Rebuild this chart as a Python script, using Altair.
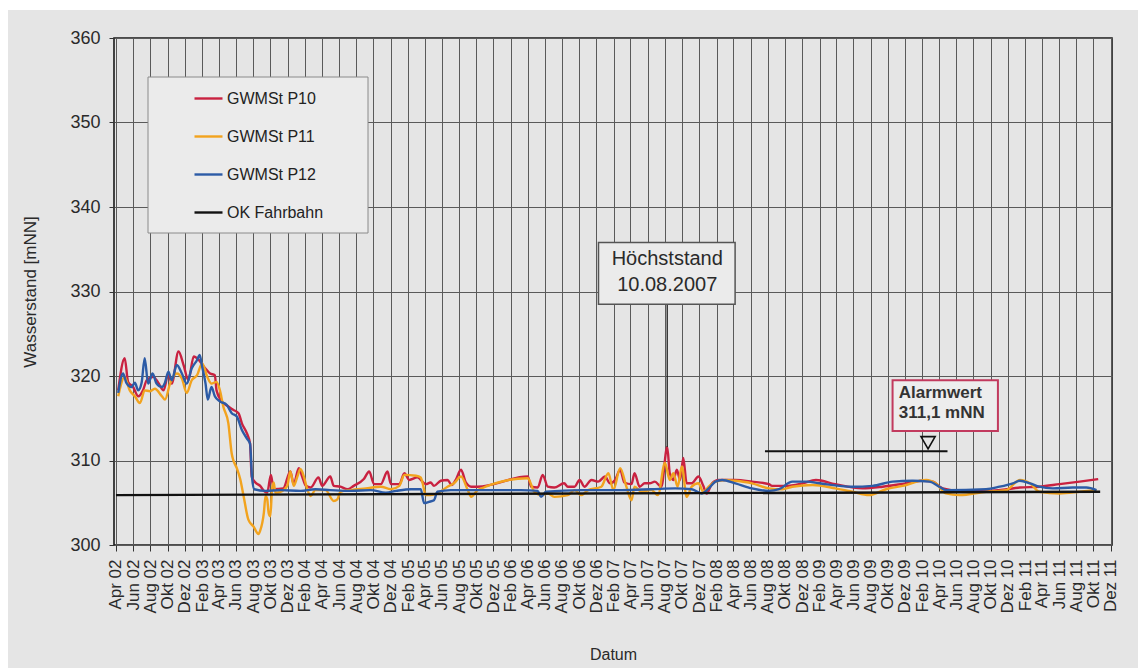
import altair as alt
import pandas as pd

# ---------------------------------------------------------------- data
series_names = ["GWMSt P10", "GWMSt P11", "GWMSt P12", "OK Fahrbahn"]
series_colors = ["#c92140", "#f2a31e", "#2c5ba6", "#111111"]

p10_dates = [
    "2002-04-09", "2002-05-02", "2002-05-14", "2002-06-01", "2002-06-19", "2002-07-06",
    "2002-07-19", "2002-08-12", "2002-08-29", "2002-09-17", "2002-10-04", "2002-10-16",
    "2002-11-09", "2002-11-27", "2002-12-14", "2003-01-02", "2003-01-20", "2003-02-07",
    "2003-03-01", "2003-03-18", "2003-03-24", "2003-04-11", "2003-05-05", "2003-05-22",
    "2003-06-10", "2003-06-22", "2003-07-10", "2003-07-21", "2003-07-27", "2003-08-09",
    "2003-08-26", "2003-09-08", "2003-09-20", "2003-10-03", "2003-10-13", "2003-11-16",
    "2003-12-11", "2003-12-23", "2004-01-10", "2004-01-22", "2004-02-04", "2004-02-21",
    "2004-03-20", "2004-04-02", "2004-05-01", "2004-05-13", "2004-06-06", "2004-07-01",
    "2004-07-23", "2004-08-28", "2004-09-16", "2004-10-03", "2004-10-27", "2004-11-20",
    "2004-12-02", "2005-01-01", "2005-01-19", "2005-02-05", "2005-03-06", "2005-04-05",
    "2005-04-22", "2005-05-04", "2005-05-28", "2005-06-21", "2005-07-06", "2005-07-20",
    "2005-08-08", "2005-08-25", "2005-09-13", "2005-10-06", "2006-04-02", "2006-04-14",
    "2006-05-07", "2006-05-25", "2006-06-12", "2006-07-05", "2006-08-09", "2006-08-22",
    "2006-09-15", "2006-10-03", "2006-10-20", "2006-11-14", "2006-12-08", "2007-01-01",
    "2007-01-19", "2007-02-06", "2007-02-24", "2007-03-11", "2007-04-05", "2007-04-16",
    "2007-05-04", "2007-05-22", "2007-06-09", "2007-06-27", "2007-07-20", "2007-08-10",
    "2007-08-19", "2007-09-01", "2007-09-13", "2007-09-25", "2007-10-06", "2007-10-18",
    "2007-11-05", "2007-11-29", "2007-12-16", "2007-12-28", "2008-01-16", "2008-02-09",
    "2008-04-08", "2008-06-06", "2008-08-05", "2008-08-16", "2008-10-03", "2008-12-02",
    "2009-01-19", "2009-03-28", "2009-07-03", "2009-09-13", "2009-12-04", "2010-02-03",
    "2010-03-09", "2010-04-14", "2010-06-12", "2010-09-04", "2010-11-26", "2011-01-13",
    "2011-03-23", "2011-06-03", "2011-08-13", "2011-10-18",
]
p10_values = [
    318.3, 322.1, 319.3, 318.7, 317.6, 318.3,
    319.5, 319.9, 319.2, 318.3, 320.3, 319.1,
    322.9, 321.3, 319.5, 322.3, 321.9, 321.1,
    320.3, 320.1, 318.3, 317.0, 316.4, 316.0,
    315.6, 314.4, 313.2, 312.0, 308.1, 307.4,
    307.0, 306.4, 306.2, 308.3, 306.6, 306.7,
    308.7, 307.2, 309.1, 308.1, 307.0, 306.8,
    308.0, 307.0, 308.1, 307.0, 306.9, 306.6,
    307.0, 307.8, 308.7, 307.2, 307.2, 308.7,
    307.2, 307.2, 308.5, 307.7, 308.0, 307.2,
    307.4, 307.0, 307.6, 307.7, 307.1, 307.7,
    308.9, 307.4, 306.9, 306.9, 308.1, 306.9,
    306.8, 308.3, 306.9, 306.8, 307.3, 306.9,
    306.9, 307.7, 306.9, 307.7, 307.5, 308.1,
    307.3, 307.7, 308.9, 307.4, 307.2, 308.5,
    306.9, 307.3, 307.3, 307.5, 306.9, 311.6,
    308.5, 307.7, 308.9, 307.7, 310.3, 307.3,
    307.3, 308.1, 307.0, 306.1, 307.3, 307.7,
    307.7, 307.5, 307.2, 307.0, 307.0, 307.3,
    307.7, 307.2, 306.7, 306.9, 307.3, 307.6,
    307.5, 306.7, 306.4, 306.4, 306.6, 306.8,
    306.9, 307.2, 307.5, 307.8,
]

p11_dates = [
    "2002-04-09", "2002-05-02", "2002-05-20", "2002-06-07", "2002-06-25", "2002-07-12",
    "2002-07-30", "2002-08-17", "2002-09-11", "2002-09-22", "2002-10-10", "2002-11-03",
    "2002-11-21", "2002-12-08", "2002-12-26", "2003-01-14", "2003-02-01", "2003-02-19",
    "2003-03-06", "2003-03-24", "2003-04-05", "2003-04-17", "2003-05-05", "2003-05-17",
    "2003-05-22", "2003-06-04", "2003-06-16", "2003-06-28", "2003-07-15", "2003-08-02",
    "2003-08-20", "2003-08-26", "2003-09-08", "2003-09-14", "2003-09-20", "2003-09-25",
    "2003-10-01", "2003-10-07", "2003-10-13", "2003-10-19", "2003-11-06", "2003-11-30",
    "2003-12-11", "2003-12-23", "2004-01-05", "2004-01-16", "2004-01-28", "2004-02-09",
    "2004-02-21", "2004-03-09", "2004-04-14", "2004-05-13", "2004-05-26", "2004-06-06",
    "2004-07-12", "2004-09-04", "2004-10-27", "2004-12-02", "2005-01-01", "2005-01-19",
    "2005-03-01", "2005-03-18", "2005-03-24", "2005-04-05", "2005-04-22", "2005-05-16",
    "2005-06-21", "2005-07-14", "2005-08-08", "2005-09-01", "2005-09-13", "2005-10-06",
    "2006-04-02", "2006-04-25", "2006-05-19", "2006-06-12", "2006-07-05", "2006-08-22",
    "2006-09-15", "2006-10-09", "2006-11-02", "2006-12-19", "2007-01-13", "2007-01-31",
    "2007-02-24", "2007-03-18", "2007-04-05", "2007-04-16", "2007-05-10", "2007-06-15",
    "2007-07-08", "2007-08-02", "2007-08-19", "2007-09-01", "2007-09-16", "2007-10-01",
    "2007-10-18", "2007-11-05", "2007-11-29", "2007-12-16", "2008-01-04", "2008-01-28",
    "2008-03-03", "2008-04-08", "2008-06-06", "2008-08-05", "2008-09-22", "2008-10-27",
    "2009-01-07", "2009-03-29", "2009-05-28", "2009-07-26", "2009-09-25", "2009-11-23",
    "2010-02-14", "2010-03-20", "2010-04-25", "2010-06-12", "2010-09-15", "2010-11-26",
    "2011-01-13", "2011-02-18", "2011-03-23", "2011-06-03", "2011-08-13", "2011-10-12",
]
p11_values = [
    317.6, 319.9, 318.3, 317.6, 316.8, 318.3,
    318.2, 318.5, 317.6, 317.2, 319.1, 320.3,
    319.7, 318.0, 319.5, 320.1, 321.5, 319.9,
    319.1, 319.3, 318.3, 316.4, 314.4, 310.8,
    310.1, 309.1, 307.8, 305.8, 303.0, 302.2,
    301.3, 301.7, 303.8, 305.8, 305.4, 303.8,
    303.4, 306.6, 307.4, 306.2, 306.3, 307.0,
    308.7, 307.0, 308.1, 309.0, 308.1, 306.6,
    305.8, 306.5, 306.5, 305.2, 305.4, 306.3,
    306.5, 306.7, 306.9, 306.6, 307.0, 308.3,
    308.2, 308.0, 307.4, 305.9, 305.9, 306.1,
    306.9, 307.3, 308.1, 306.5, 305.7, 306.5,
    307.9, 306.3, 305.9, 306.1, 305.7, 305.9,
    306.5, 305.9, 306.5, 306.9, 308.5, 306.5,
    309.1, 306.9, 305.3, 306.9, 306.3, 306.5,
    305.9, 309.7, 307.7, 308.5, 306.9, 309.3,
    305.7, 306.9, 307.3, 306.3, 306.9, 307.5,
    307.7, 307.6, 307.3, 306.7, 306.6, 306.9,
    307.1, 306.7, 306.3, 305.9, 306.6, 307.0,
    307.7, 307.3, 306.1, 305.9, 306.3, 306.5,
    307.7, 307.3, 306.3, 306.1, 306.3, 306.5,
]

p12_dates = [
    "2002-04-09", "2002-04-26", "2002-05-08", "2002-05-26", "2002-06-07", "2002-06-19",
    "2002-07-01", "2002-07-12", "2002-07-24", "2002-08-09", "2002-08-23", "2002-09-11",
    "2002-09-22", "2002-10-04", "2002-10-16", "2002-11-03", "2002-11-21", "2002-12-08",
    "2002-12-26", "2003-01-14", "2003-01-23", "2003-02-01", "2003-02-13", "2003-02-21",
    "2003-03-06", "2003-03-18", "2003-04-05", "2003-04-29", "2003-05-17", "2003-06-04",
    "2003-06-22", "2003-07-10", "2003-07-21", "2003-07-28", "2003-08-05", "2003-09-14",
    "2003-11-06", "2004-01-16", "2004-03-09", "2004-05-01", "2004-07-12", "2004-09-22",
    "2004-11-14", "2004-12-20", "2005-02-12", "2005-03-18", "2005-03-30", "2005-04-16",
    "2005-05-04", "2005-05-16", "2005-07-03", "2005-10-18", "2006-03-08", "2006-05-07",
    "2006-05-19", "2006-06-06", "2006-10-09", "2007-03-01", "2007-06-15", "2007-09-07",
    "2007-11-05", "2007-12-10", "2008-01-04", "2008-01-28", "2008-02-21", "2008-04-08",
    "2008-06-06", "2008-08-05", "2008-09-10", "2008-10-27", "2008-12-19", "2009-02-01",
    "2009-05-28", "2009-08-08", "2009-10-18", "2009-12-28", "2010-02-26", "2010-04-02",
    "2010-04-25", "2010-09-15", "2010-11-02", "2010-12-19", "2011-01-13", "2011-02-18",
    "2011-03-23", "2011-05-10", "2011-07-20", "2011-09-06", "2011-10-12",
]
p12_values = [
    318.0, 320.3, 319.2, 318.7, 319.2, 318.3,
    319.2, 322.1, 319.1, 320.3, 319.1, 318.7,
    319.2, 320.5, 319.5, 321.3, 320.3, 319.1,
    320.9, 321.9, 322.5, 321.1, 319.1, 317.2,
    318.7, 317.6, 317.0, 316.6, 315.6, 315.2,
    313.6, 312.6, 312.0, 308.0, 306.6, 306.4,
    306.5, 306.4, 306.6, 306.5, 306.4, 306.5,
    306.2, 306.4, 306.6, 306.6, 304.95, 305.1,
    305.3, 306.3, 306.5, 306.5, 306.5, 306.4,
    305.7, 306.3, 306.5, 306.5, 306.6, 306.7,
    306.6, 306.1, 306.7, 307.5, 307.7, 307.3,
    306.7, 306.4, 306.6, 307.5, 307.5, 307.3,
    306.9, 307.0, 307.5, 307.6, 307.5, 306.9,
    306.5, 306.6, 306.9, 307.3, 307.6, 307.3,
    306.9, 306.7, 306.8, 306.8, 306.5,
]

# road surface level (top edge of the carriageway)
road_dates = ["2002-04-01", "2011-10-25"]
road_values = [305.9, 306.3]

# annotations
peak_date = "2007-08-10"
peak_value = 311.6
peak_lines = ["Höchststand", "10.08.2007"]
alarm_value = 311.1
alarm_lines = ["Alarmwert", "311,1 mNN"]

# ---------------------------------------------------------------- frames
frames = []
for name, d, v in [
    (series_names[0], p10_dates, p10_values),
    (series_names[1], p11_dates, p11_values),
    (series_names[2], p12_dates, p12_values),
    (series_names[3], road_dates, road_values),
]:
    frames.append(pd.DataFrame({"Datum": d, "Wasserstand": v, "Messstelle": name}))
levels = pd.concat(frames, ignore_index=True)

tick_dates = pd.date_range("2002-04-01", "2011-12-01", freq="2MS")
tick_ms = [int(t.value // 10**6) for t in tick_dates]
x_domain = [int(pd.Timestamp("2002-03-25").value // 10**6),
            int(pd.Timestamp("2011-12-06").value // 10**6)]

x_scale = alt.Scale(type="utc", domain=x_domain)
y_scale = alt.Scale(domain=[300, 360], nice=False, zero=False)

FONT = "Liberation Sans"
month_expr = ("['Jan','Feb','Mär','Apr','Mai','Jun','Jul','Aug','Sep','Okt','Nov','Dez']"
              "[utcmonth(datum.value)] + ' ' + utcFormat(datum.value, '%y')")

x_axis = alt.Axis(
    title="Datum", values=tick_ms, labelExpr=month_expr, labelAngle=270,
    labelFontSize=17, labelFont=FONT, labelColor="#2a2a2a", labelPadding=8,
    labelOverlap=False, labelFlush=False, tickSize=6, tickColor="#333333",
    domain=False, grid=True, gridColor="#5a5a5a", gridWidth=1,
    titleFont=FONT, titleFontSize=16, titleFontWeight="normal", titleColor="#2a2a2a",
    titlePadding=34,
)
y_axis = alt.Axis(
    title="Wasserstand [mNN]", values=[300, 310, 320, 330, 340, 350, 360],
    labelFontSize=18, labelFont=FONT, labelColor="#2a2a2a", labelPadding=9,
    tickSize=5, tickColor="#333333", domain=False, grid=True,
    gridColor="#5a5a5a", gridWidth=1,
    titleFont=FONT, titleFontSize=17, titleFontWeight="normal", titleColor="#2a2a2a",
    titlePadding=30,
)


def xy(xfield, yfield):
    """Shared date / level encodings so every layer uses one axis pair."""
    return dict(
        x=alt.X(xfield, scale=x_scale, axis=x_axis),
        y=alt.Y(yfield, scale=y_scale, axis=y_axis),
    )


lines = alt.Chart(levels).mark_line(interpolate="monotone").encode(
    **xy("Datum:T", "Wasserstand:Q"),
    color=alt.Color(
        "Messstelle:N",
        scale=alt.Scale(domain=series_names, range=series_colors),
        legend=alt.Legend(
            orient="none", legendX=34, legendY=39, title=None,
            symbolType="stroke", symbolSize=784, symbolStrokeWidth=3,
            symbolOffset=39, labelOffset=3, padding=6, rowPadding=14,
            labelFont=FONT, labelFontSize=16, labelColor="#222222",
        ),
    ),
    strokeWidth=alt.StrokeWidth(
        "Messstelle:N",
        scale=alt.Scale(domain=series_names, range=[2.4, 2.4, 2.4, 3.2]),
        legend=None,
    ),
)

# legend frame drawn behind the legend entries
one = pd.DataFrame({"k": [0]})
legend_box = alt.Chart(one).mark_rect(
    fill="#ebebeb", stroke="#8a8a8a", strokeWidth=1
).encode(x=alt.value(34), x2=alt.value(254), y=alt.value(39), y2=alt.value(195))

# alarm level marker line and triangle
alarm_df = pd.DataFrame({"start": ["2008-07-22"], "end": ["2010-05-01"],
                         "Wasserstand": [alarm_value]})
alarm_rule = alt.Chart(alarm_df).mark_rule(color="#111111", strokeWidth=2).encode(
    **xy("start:T", "Wasserstand:Q"), x2="end:T",
)
tri_df = pd.DataFrame({"Datum": ["2010-02-21"], "Wasserstand": [312.1]})
alarm_tri = alt.Chart(tri_df).mark_point(
    shape="triangle-down", filled=False, size=200, color="#111111",
    strokeWidth=1.6, opacity=1,
).encode(**xy("Datum:T", "Wasserstand:Q"))

alarm_box_df = pd.DataFrame({"start": ["2009-10-18"], "end": ["2010-10-27"],
                             "low": [313.5], "high": [319.5]})
alarm_box = alt.Chart(alarm_box_df).mark_rect(
    fill="#ededed", stroke="#c23a5e", strokeWidth=2
).encode(**xy("start:T", "low:Q"), x2="end:T", y2="high:Q")
alarm_text_df = pd.DataFrame({"Datum": ["2009-11-09", "2009-11-09"],
                              "Wasserstand": [318.0, 315.6], "text": alarm_lines})
alarm_text = alt.Chart(alarm_text_df).mark_text(
    align="left", baseline="middle", font=FONT, fontSize=17, fontWeight="bold",
    color="#333333",
).encode(**xy("Datum:T", "Wasserstand:Q"), text="text:N")

# highest level call-out
peak_box_df = pd.DataFrame({"start": ["2006-12-09"], "end": ["2008-04-07"],
                            "low": [328.5], "high": [335.8]})
peak_box = alt.Chart(peak_box_df).mark_rect(
    fill="#ebebeb", stroke="#555555", strokeWidth=1.5
).encode(**xy("start:T", "low:Q"), x2="end:T", y2="high:Q")
peak_text_df = pd.DataFrame({"Datum": [peak_date, peak_date],
                             "Wasserstand": [333.8, 330.8], "text": peak_lines})
peak_text = alt.Chart(peak_text_df).mark_text(
    align="center", baseline="middle", font=FONT, fontSize=20, color="#2a2a2a",
).encode(**xy("Datum:T", "Wasserstand:Q"), text="text:N")
peak_ptr_df = pd.DataFrame({"Datum": [peak_date], "top": [328.5], "bottom": [peak_value]})
peak_ptr = alt.Chart(peak_ptr_df).mark_rule(color="#222222", strokeWidth=1.3).encode(
    **xy("Datum:T", "top:Q"), y2="bottom:Q",
)

# thin white margin along the top and left page edges
edge_top = alt.Chart(one).mark_rect(color="white").encode(
    x=alt.value(-114), x2=alt.value(1024), y=alt.value(-38), y2=alt.value(-28))
edge_left = alt.Chart(one).mark_rect(color="white").encode(
    x=alt.value(-114), x2=alt.value(-106), y=alt.value(-38), y2=alt.value(630))

chart = alt.layer(
    legend_box, lines, alarm_rule, alarm_tri, peak_ptr, peak_box, peak_text,
    alarm_box, alarm_text, edge_top, edge_left,
).properties(
    width=998, height=507,
    padding={"left": 114, "top": 38, "right": 26, "bottom": 123},
    autosize=alt.AutoSizeParams(type="none"),
    background="#e5e5e5",
).configure_view(
    fill="#e5e5e5", stroke="#1a1a1a", strokeWidth=1.6,
)

chart.save("out.html", embed_options={"renderer": "svg", "actions": False})
